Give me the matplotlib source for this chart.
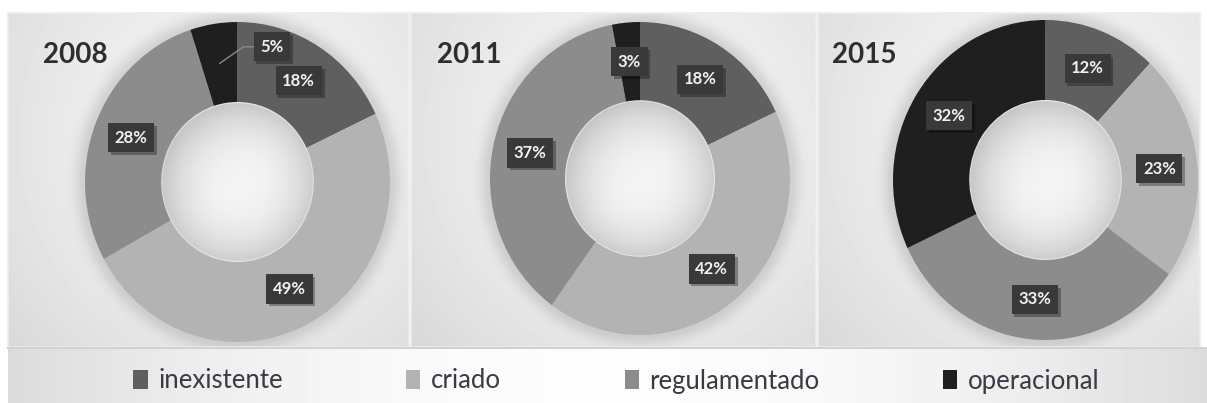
import numpy as np
import matplotlib
matplotlib.use('Agg')
from matplotlib import pyplot as plt
from matplotlib import patheffects as pe
from matplotlib.patches import Rectangle

plt.rcParams['font.family'] = ['Lato', 'DejaVu Sans']

categories = ['inexistente', 'criado', 'regulamentado', 'operacional']
years = ['2008', '2011', '2015']
values_2008 = [18, 49, 28, 5]
values_2011 = [18, 42, 37, 3]
values_2015 = [12, 23, 33, 32]
series = [values_2008, values_2011, values_2015]
colors = ['#5f5f5f', '#b3b3b3', '#8c8c8c', '#1f1f1f']

W, H = 1207, 403
fig = plt.figure(figsize=(W / 100, H / 100), dpi=100)
fig.patch.set_facecolor('white')

# background in pixel coordinates (y down)
bg = fig.add_axes([0, 0, 1, 1])
bg.set_xlim(0, W)
bg.set_ylim(H, 0)
bg.axis('off')

panels = [(8, 409), (411, 816), (818, 1200)]
top, bottom = 13, 347
# donut centre and radii in pixels
centers = [(237.5, 182, 152.5, 160), (640, 178.5, 150, 156.5), (1045.5, 180, 152.5, 160)]
title_x = [43, 437, 832]

for (x0, x1), (cx, cy, rx, ry) in zip(panels, centers):
    xs = np.arange(x0, x1) + 0.5
    ys = np.arange(top, bottom) + 0.5
    X, Y = np.meshgrid(xs, ys)
    r = np.sqrt(((X - cx) / rx) ** 2 + ((Y - cy) / ry) ** 2)
    g = 0.91 - 0.075 * np.clip(r - 1, 0, None)
    g += 0.03 * (1 - (Y - top) / (bottom - top))
    g -= 0.11 * np.exp(-((r - 1.0) / 0.07) ** 2)
    bg.imshow(g, cmap='gray', vmin=0, vmax=1, extent=(x0, x1, bottom, top),
              aspect='auto', interpolation='bilinear', zorder=0)
    bg.add_patch(Rectangle((x0, top), x1 - x0, bottom - top, fill=False,
                           ec='#ededed', lw=1.2, zorder=1))

# legend band
xs = np.arange(8, W) + 0.5
ys = np.arange(349, H) + 0.5
X, Y = np.meshgrid(xs, ys)
g = 0.99 - 0.13 * ((X - 610) / 600) ** 2
bg.imshow(g, cmap='gray', vmin=0, vmax=1, extent=(8, W, H, 349),
          aspect='auto', interpolation='bilinear', zorder=0)
bg.plot([8, W], [348, 348], color='#d2d2d2', lw=1.5, zorder=1)

for year, tx in zip(years, title_x):
    bg.text(tx, 63, year, fontsize=20, fontweight='bold', color='#2e2e2e',
            va='baseline', ha='left', zorder=3)

L = 1.2
label_offsets = {('2008', 3): (0.225, 0.845)}

for year, vals, (cx, cy, rx, ry) in zip(years, series, centers):
    ax = fig.add_axes([(cx - L * rx) / W, (H - cy - L * ry) / H,
                       2 * L * rx / W, 2 * L * ry / H])
    ax.pie(vals, colors=colors, startangle=90, counterclock=False,
           wedgeprops=dict(width=0.5, linewidth=0))

    # hole shading
    n = 200
    u = np.linspace(-0.5, 0.5, n)
    U, V = np.meshgrid(u, u[::-1])
    rr = np.sqrt(U ** 2 + V ** 2) / 0.5
    shade = 0.96 - 0.16 * rr ** 2.5 - 0.05 * np.clip(V - U, 0, None)
    rgba = np.zeros((n, n, 4))
    rgba[..., 0] = shade
    rgba[..., 1] = shade
    rgba[..., 2] = shade
    rgba[..., 3] = np.clip((1.0 - rr) * 60, 0, 1)
    ax.imshow(rgba, extent=(-0.5, 0.5, -0.5, 0.5), zorder=0.5,
              interpolation='bilinear')

    total = float(sum(vals))
    cum = 0.0
    for i, v in enumerate(vals):
        mid = (cum + v / 2) / total
        cum += v
        theta = np.deg2rad(90 - 360 * mid)
        px, py = 0.75 * np.cos(theta), 0.75 * np.sin(theta)
        txt = '{}%'.format(v)
        box = dict(boxstyle='square,pad=0.4', fc='#393939', ec='none')
        if (year, i) in label_offsets:
            lx, ly = label_offsets[(year, i)]
            t = ax.annotate(txt, xy=(px, py), xytext=(lx, ly),
                            ha='center', va='center', fontsize=12,
                            fontweight='bold', color='#f2f2f2', zorder=4,
                            arrowprops=dict(arrowstyle='-', color='#8a8a8a',
                                            lw=1, shrinkA=0, shrinkB=0,
                                            connectionstyle='angle,angleA=0,angleB=35,rad=0'),
                            bbox=box)
        else:
            t = ax.text(px, py, txt, ha='center', va='center', fontsize=12,
                        fontweight='bold', color='#f2f2f2', zorder=4, bbox=box)
        t.get_bbox_patch().set_path_effects([
            pe.SimplePatchShadow(offset=(2, -2), shadow_rgbFace='#000000', alpha=0.3),
            pe.Normal()])

    ax.set_xlim(-L, L)
    ax.set_ylim(-L, L)
    ax.set_aspect('auto')
    ax.axis('off')

handles = [Rectangle((0, 0), 1, 1, fc=c, ec='none') for c in colors]
fig.legend(handles, categories, loc='center', bbox_to_anchor=(616.5 / W, (H - 381) / H),
           ncol=4, frameon=False, fontsize=18.5, handlelength=0.55, handleheight=0.75,
           handletextpad=0.42, columnspacing=4.8, labelcolor='#3a3a44')

fig.savefig('out.png', dpi=100)
